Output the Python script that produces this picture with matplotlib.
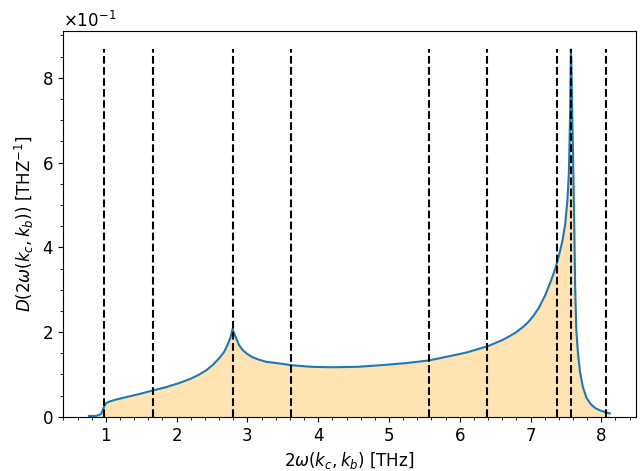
import matplotlib
matplotlib.use("Agg")
import matplotlib.pyplot as plt
import numpy as np

# two-phonon density of states, sampled frequency (THz) and D (1/THz)
freq = [0.76, 0.85, 0.90, 0.93, 0.95, 0.97, 0.99, 1.01, 1.05, 1.15,
        1.30, 1.50, 1.66, 1.85, 2.04, 2.20, 2.32, 2.42, 2.52, 2.61,
        2.67, 2.72, 2.76, 2.79, 2.81, 2.84, 2.88, 2.93, 3.00, 3.07,
        3.16, 3.26, 3.45, 3.62, 3.90, 4.20, 4.55, 4.90, 5.25, 5.56,
        5.85, 6.10, 6.40, 6.60, 6.70, 6.80, 6.90, 6.97, 7.04, 7.12,
        7.21, 7.29, 7.35, 7.40, 7.45, 7.49, 7.52, 7.54, 7.55, 7.56,
        7.565, 7.57, 7.578, 7.585, 7.60, 7.615, 7.63, 7.645, 7.67, 7.70,
        7.74, 7.79, 7.85, 7.92, 8.00, 8.08, 8.12]
dos = [0.002, 0.002, 0.004, 0.007, 0.013, 0.022, 0.029, 0.033, 0.036, 0.041,
       0.047, 0.055, 0.062, 0.070, 0.080, 0.090, 0.100, 0.110, 0.124, 0.140,
       0.153, 0.170, 0.187, 0.207, 0.198, 0.186, 0.170, 0.158, 0.148, 0.141,
       0.135, 0.130, 0.126, 0.122, 0.118, 0.117, 0.118, 0.122, 0.127, 0.133,
       0.143, 0.152, 0.167, 0.181, 0.190, 0.200, 0.213, 0.224, 0.238, 0.258,
       0.288, 0.322, 0.350, 0.380, 0.415, 0.455, 0.510, 0.570, 0.640, 0.730,
       0.800, 0.867, 0.830, 0.750, 0.620, 0.480, 0.310, 0.210, 0.150, 0.105,
       0.070, 0.045, 0.030, 0.020, 0.014, 0.010, 0.008]

# van Hove singularity positions (THz)
critical_points = [0.97, 1.66, 2.79, 3.62, 5.56, 6.39, 7.37, 7.57, 8.07]

fig, ax = plt.subplots(figsize=(6.41, 4.71), dpi=100)
fig.subplots_adjust(left=0.098, right=0.992, bottom=0.115, top=0.934)

ax.fill_between(freq, dos, color="orange", alpha=0.3, linewidth=0)
ax.plot(freq, dos, color="C0", linewidth=1.5)
ax.vlines(critical_points, 0, max(dos), colors="k", linestyles="--", linewidth=1.5)

ax.set_ylim(0, max(dos) * 1.05)
ax.set_xlabel(r"$2\omega(k_c, k_b)$ [THz]", fontsize=12)
ax.set_ylabel(r"$D(2\omega(k_c, k_b))$ [THZ$^{-1}$]", fontsize=12)
ax.ticklabel_format(axis="y", style="sci", scilimits=(0, 0), useMathText=True)
ax.yaxis.get_offset_text().set_fontsize(12)
ax.tick_params(labelsize=12)
ax.minorticks_on()

fig.savefig("out.png", dpi=100)
